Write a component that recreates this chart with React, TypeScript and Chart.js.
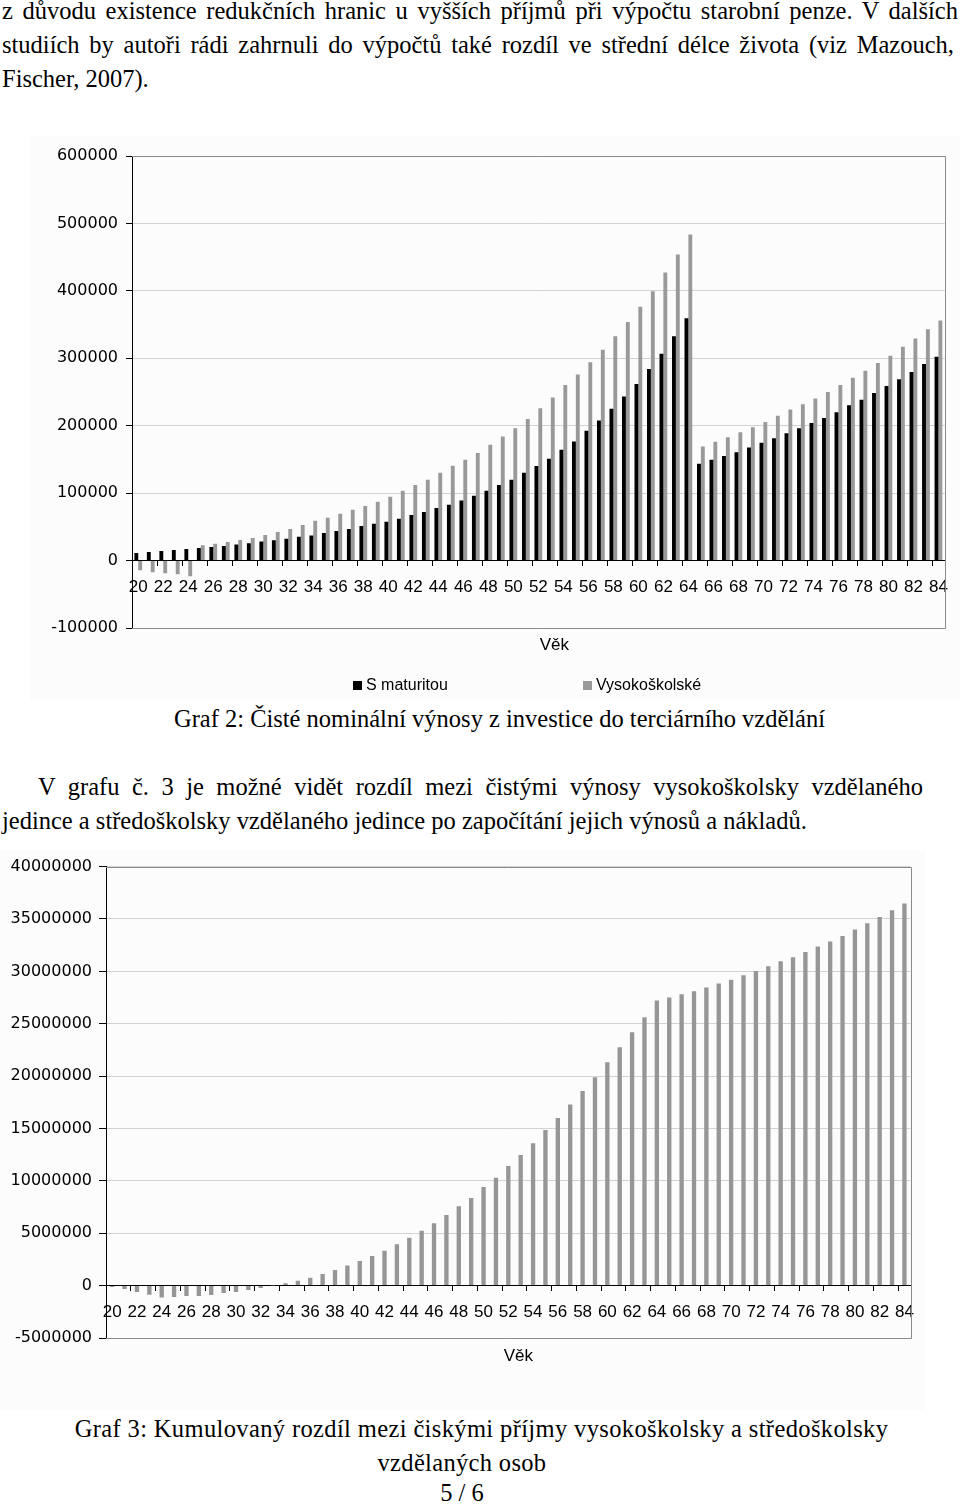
import React, { useEffect, useRef } from "react";
import { Chart, registerables } from "chart.js";

Chart.register(...registerables);

// ---------- data ----------
const AGES = [
  "20", "21", "22", "23", "24", "25", "26", "27", "28", "29",
  "30", "31", "32", "33", "34", "35", "36", "37", "38", "39",
  "40", "41", "42", "43", "44", "45", "46", "47", "48", "49",
  "50", "51", "52", "53", "54", "55", "56", "57", "58", "59",
  "60", "61", "62", "63", "64", "65", "66", "67", "68", "69",
  "70", "71", "72", "73", "74", "75", "76", "77", "78", "79",
  "80", "81", "82", "83", "84",
];

// Graf 2 – S maturitou
const S_MATURITOU = [
  11300, 12800, 14300, 15800, 17300, 18700, 20200, 21700, 23700, 25600,
  28100, 30100, 32500, 35500, 37000, 40900, 43900, 46800, 51300, 54700,
  57700, 62100, 67500, 72000, 77900, 82800, 89200, 96100, 103500, 111900,
  119800, 130200, 140100, 151000, 164300, 176600, 192400, 207700, 225000, 243200,
  262000, 284200, 306900, 332500, 359200, 143500, 149400, 154900, 160800, 167700,
  174600, 181500, 188900, 196300, 204100, 211600, 219900, 230200, 238600, 248600,
  259000, 268900, 279700, 291500, 302400,
];

// Graf 2 – Vysokoškolské
const VYSOKOSKOLSKE = [
  -14300, -17300, -18700, -20200, -23200, 22700, 25100, 27600, 30600, 33500,
  38000, 42400, 46800, 52800, 59200, 63600, 69500, 75400, 80900, 87300,
  94700, 103500, 111900, 119800, 130200, 140500, 149400, 159700, 171600, 183900,
  196200, 210000, 226000, 241700, 260500, 275800, 294000, 312800, 332500, 353700,
  376400, 399600, 427200, 453900, 483500, 169100, 176100, 183000, 190400, 197800,
  205600, 214600, 224000, 232000, 240200, 250100, 260500, 271300, 281700, 293000,
  303900, 317200, 329500, 342900, 356200,
];

// Graf 3 – kumulovaný rozdíl
const KUMULOVANY = [
  -130000, -320000, -600000, -860000, -1140000, -1080000, -980000, -980000, -890000, -700000,
  -600000, -410000, -220000, -20000, 220000, 475000, 760000, 1110000, 1490000, 1930000,
  2340000, 2820000, 3330000, 3960000, 4560000, 5230000, 5960000, 6750000, 7570000, 8370000,
  9410000, 10300000, 11410000, 12480000, 13590000, 14860000, 16000000, 17300000, 18570000, 19900000,
  21320000, 22750000, 24180000, 25630000, 27220000, 27500000, 27820000, 28110000, 28450000, 28830000,
  29210000, 29630000, 30040000, 30480000, 30960000, 31340000, 31840000, 32380000, 32860000, 33370000,
  34000000, 34600000, 35200000, 35840000, 36470000,
];

const SERIES_LABELS = ["S maturitou", "Vysokoškolské"];
const AXIS_TITLE = "Věk";
const Y1_MIN = -100000;
const Y1_MAX = 600000;
const Y1_STEP = 100000;
const Y2_MIN = -5000000;
const Y2_MAX = 40000000;
const Y2_STEP = 5000000;

// ---------- plugins ----------
const plotFrame = {
  id: "plotFrame",
  beforeDatasetsDraw(chart: any, _args: any, opts: any) {
    const { ctx, chartArea: a } = chart;
    ctx.save();
    ctx.strokeStyle = opts.color || "#8a8a8a";
    ctx.lineWidth = 1;
    ctx.beginPath();
    ctx.moveTo(Math.round(a.left), Math.round(a.top) + 0.5);
    ctx.lineTo(Math.round(a.right) + 0.5, Math.round(a.top) + 0.5);
    ctx.lineTo(Math.round(a.right) + 0.5, Math.round(a.bottom) + 0.5);
    ctx.lineTo(Math.round(a.left), Math.round(a.bottom) + 0.5);
    ctx.stroke();
    ctx.restore();
  },
};

const pageTexts = {
  id: "pageTexts",
  afterDraw(chart: any, _args: any, opts: any) {
    const { ctx, chartArea: a } = chart;
    const cx = (a.left + a.right) / 2;
    ctx.save();
    ctx.fillStyle = "#000";
    ctx.font = '17px "Liberation Sans", Arial, sans-serif';
    ctx.textAlign = "center";
    ctx.textBaseline = "alphabetic";
    ctx.fillText(opts.title, cx + opts.titleDx, a.bottom + opts.titleDy);
    if (opts.legendX) {
      ctx.font = '16px "Liberation Sans", Arial, sans-serif';
      ctx.textAlign = "left";
      chart.data.datasets.forEach((ds: any, i: number) => {
        const x = Math.round(cx + opts.legendX[i]);
        const y = Math.round(a.bottom + opts.legendDy);
        ctx.fillStyle = ds.backgroundColor;
        ctx.fillRect(x, y - 9, 9, 9);
        ctx.fillStyle = "#000";
        ctx.fillText(ds.label, x + 13, y);
      });
    }
    ctx.restore();
  },
};

function xScale(padding: number) {
  return {
    position: { y: 0 },
    offset: true,
    grid: {
      display: true,
      drawOnChartArea: false,
      drawTicks: true,
      offset: true,
      tickLength: 5,
      tickWidth: 1,
      tickColor: (c: any) => (c.index !== undefined && c.index % 2 === 0 ? "#000" : "rgba(0,0,0,0)"),
    },
    border: { display: true, color: "#000", width: 1 },
    ticks: {
      autoSkip: false,
      maxRotation: 0,
      minRotation: 0,
      padding,
      color: "#000",
      font: { family: "'Liberation Sans', Arial, sans-serif", size: 17 },
      callback: function (this: any, value: any, index: number) {
        return index % 2 === 0 ? this.getLabelForValue(value) : "";
      },
    },
  };
}

function yScale(min: number, max: number, step: number, width: number, tickLength: number, padding: number) {
  return {
    min,
    max,
    grid: {
      color: (c: any) => (c.tick && c.tick.value === 0 ? "#000" : "#d2d2d2"),
      tickColor: "#000",
      tickLength,
      drawTicks: true,
    },
    border: { display: true, color: "#000", width: 1 },
    ticks: {
      stepSize: step,
      padding,
      color: "#000",
      font: { family: "'DejaVu Sans', Arial, sans-serif", size: 16 },
      callback: (v: any) => String(v),
    },
    afterFit: (s: any) => {
      s.width = width;
    },
  };
}

function Graf2() {
  const ref = useRef<HTMLCanvasElement>(null);
  useEffect(() => {
    const chart = new Chart(ref.current as HTMLCanvasElement, {
      type: "bar",
      data: {
        labels: AGES,
        datasets: [
          {
            label: SERIES_LABELS[0],
            data: S_MATURITOU,
            backgroundColor: "#000000",
            categoryPercentage: 0.62,
            barPercentage: 1,
          },
          {
            label: SERIES_LABELS[1],
            data: VYSOKOSKOLSKE,
            backgroundColor: "#999999",
            categoryPercentage: 0.62,
            barPercentage: 1,
          },
        ],
      },
      options: {
        responsive: false,
        maintainAspectRatio: false,
        animation: false,
        events: [],
        layout: { padding: { top: 21, right: 13, bottom: 72, left: 0 } },
        plugins: {
          legend: { display: false },
          tooltip: { enabled: false },
          title: { display: false },
          plotFrame: { color: "#8a8a8a" },
          pageTexts: { title: AXIS_TITLE, titleDx: 16, titleDy: 22, legendX: [-185, 45], legendDy: 62 },
        } as any,
        scales: {
          x: xScale(12) as any,
          y: yScale(Y1_MIN, Y1_MAX, Y1_STEP, 102, 6, 8) as any,
        },
      },
      plugins: [plotFrame, pageTexts],
    });
    return () => chart.destroy();
  }, []);
  return (
    <canvas
      ref={ref}
      width={930}
      height={565}
      style={{ position: "absolute", left: 30, top: 135, width: 930, height: 565, background: "#fcfcfc" }}
    />
  );
}

function Graf3() {
  const ref = useRef<HTMLCanvasElement>(null);
  useEffect(() => {
    const chart = new Chart(ref.current as HTMLCanvasElement, {
      type: "bar",
      data: {
        labels: AGES,
        datasets: [
          {
            label: "Kumulovaný rozdíl",
            data: KUMULOVANY,
            backgroundColor: "#969696",
            categoryPercentage: 0.35,
            barPercentage: 1,
          },
        ],
      },
      options: {
        responsive: false,
        maintainAspectRatio: false,
        animation: false,
        events: [],
        layout: { padding: { top: 15, right: 14, bottom: 72, left: 0 } },
        plugins: {
          legend: { display: false },
          tooltip: { enabled: false },
          title: { display: false },
          plotFrame: { color: "#8a8a8a" },
          pageTexts: { title: AXIS_TITLE, titleDx: 10, titleDy: 23 },
        } as any,
        scales: {
          x: xScale(11) as any,
          y: yScale(Y2_MIN, Y2_MAX, Y2_STEP, 106, 7, 7) as any,
        },
      },
      plugins: [plotFrame, pageTexts],
    });
    return () => chart.destroy();
  }, []);
  return (
    <canvas
      ref={ref}
      width={925}
      height={560}
      style={{ position: "absolute", left: 0, top: 850, width: 925, height: 560, background: "#fcfcfc" }}
    />
  );
}

const SERIF = "'Liberation Serif', 'Times New Roman', serif";

function Line(props: {
  baseline: number;
  left?: number;
  width?: number;
  center?: number;
  justify?: boolean;
  spacing?: number;
  children: React.ReactNode;
}) {
  const style: React.CSSProperties = {
    position: "absolute",
    top: props.baseline - 22,
    fontFamily: SERIF,
    fontSize: 24.5,
    lineHeight: "28px",
    color: "#000",
    margin: 0,
    letterSpacing: props.spacing ? props.spacing + "px" : undefined,
  };
  if (props.center !== undefined) {
    style.left = props.center;
    style.transform = "translateX(-50%)";
    style.whiteSpace = "nowrap";
  } else {
    style.left = props.left ?? 2;
    if (props.justify) {
      style.width = props.width;
      style.textAlign = "justify";
      (style as any).textAlignLast = "justify";
    } else {
      style.whiteSpace = "nowrap";
    }
  }
  return <div style={style}>{props.children}</div>;
}

export default function App() {
  return (
    <div
      style={{
        position: "absolute",
        left: 0,
        top: 0,
        width: 960,
        height: 1505,
        overflow: "hidden",
        background: "#fff",
      }}
    >
      <Line baseline={19} left={2} width={956} justify>
        z důvodu existence redukčních hranic u vyšších příjmů při výpočtu starobní penze. V dalších
      </Line>
      <Line baseline={53} left={2} width={952} justify>
        studiích by autoři rádi zahrnuli do výpočtů také rozdíl ve střední délce života (viz Mazouch,
      </Line>
      <Line baseline={87} left={2}>
        Fischer, 2007).
      </Line>

      <Graf2 />

      <Line baseline={727} center={499.5}>
        Graf 2: Čisté nominální výnosy z investice do terciárního vzdělání
      </Line>
      <Line baseline={795} left={38} width={885} justify>
        V grafu č. 3 je možné vidět rozdíl mezi čistými výnosy vysokoškolsky vzdělaného
      </Line>
      <Line baseline={829} left={2}>
        jedince a středoškolsky vzdělaného jedince po započítání jejich výnosů a nákladů.
      </Line>

      <Graf3 />

      <Line baseline={1437} center={481.5} spacing={0.37}>
        Graf 3: Kumulovaný rozdíl mezi čiskými příjmy vysokoškolsky a středoškolsky
      </Line>
      <Line baseline={1471} center={462} spacing={0.33}>
        vzdělaných osob
      </Line>
      <Line baseline={1501} center={462}>
        5 / 6
      </Line>
    </div>
  );
}
